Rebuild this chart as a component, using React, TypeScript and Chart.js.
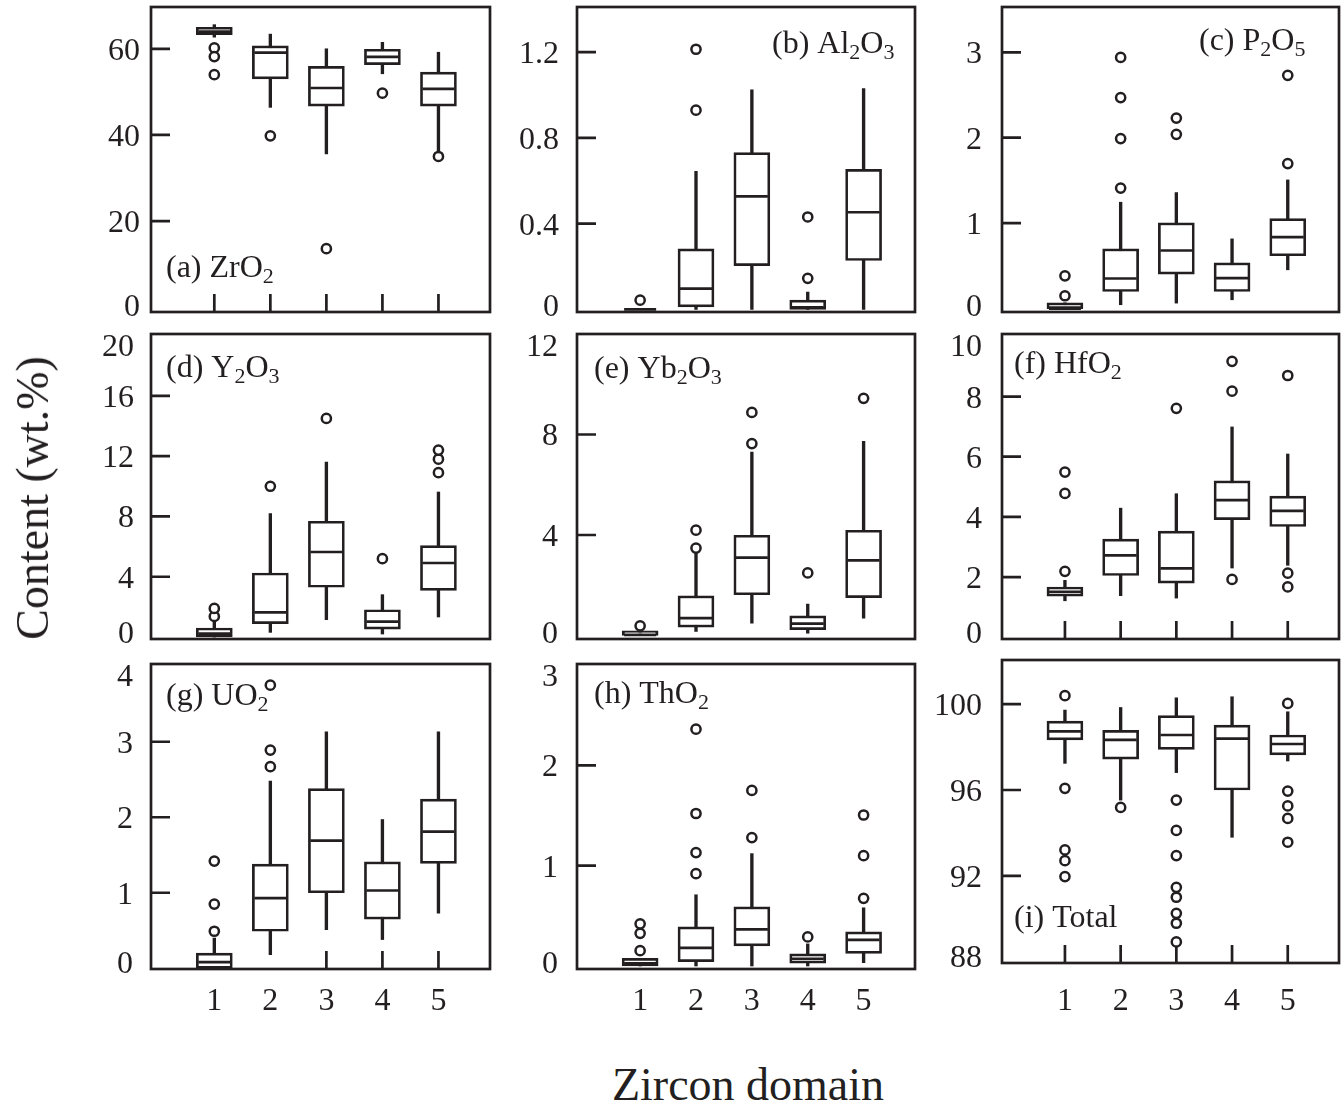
import React, { useEffect, useRef } from "react";
import { Chart, registerables } from "chart.js";

Chart.register(...registerables);

// ---------------- data ----------------
const DOMAINS = [1, 2, 3, 4, 5];
const DOMAIN_LABELS = ["1", "2", "3", "4", "5"];

// each row: [lower whisker, Q1, median, Q3, upper whisker] for domains 1..5
const ZRO2_BOXES = [
  [62.7, 63.3, 64.0, 65.0, 65.6],
  [46.4, 53.0, 59.1, 60.7, 63.4],
  [35.6, 46.7, 50.9, 55.9, 60.0],
  [54.2, 56.3, 58.1, 59.9, 61.5],
  [36.1, 46.7, 50.7, 54.6, 59.2],
];
const ZRO2_OUTLIERS = [[1, 60.2], [1, 58.2], [1, 54.0], [2, 39.8], [3, 13.6], [4, 49.7], [5, 35.0]];
const ZRO2_TICKS = [0, 20, 40, 60];

const AL2O3_BOXES = [
  [0, 0, 0, 0, 0],
  [0.0, 0.012, 0.097, 0.282, 0.644],
  [0.0, 0.204, 0.527, 0.731, 1.024],
  [0.0, 0.0, 0.01, 0.043, 0.081],
  [0.0, 0.228, 0.453, 0.653, 1.03],
];
const AL2O3_OUTLIERS = [[1, 0.043], [2, 0.929], [2, 1.213], [4, 0.145], [4, 0.431]];
const AL2O3_TICKS = [0, 0.4, 0.8, 1.2];

const P2O5_BOXES = [
  [0, 0, 0, 0.068, 0.068],
  [0.045, 0.2, 0.352, 0.7, 1.245],
  [0.064, 0.403, 0.68, 1.004, 1.358],
  [0.103, 0.2, 0.356, 0.536, 0.816],
  [0.454, 0.618, 0.836, 1.054, 1.506],
];
const P2O5_OUTLIERS = [[1, 0.15], [1, 0.384], [2, 1.41], [2, 1.99], [2, 2.47], [2, 2.94], [3, 2.04], [3, 2.23], [5, 1.697], [5, 2.73]];
const P2O5_TICKS = [0, 1, 2, 3];

const Y2O3_BOXES = [
  [0, 0, 0.22, 0.6, 1.04],
  [0.31, 0.885, 1.64, 4.25, 8.19],
  [1.15, 3.3, 5.64, 7.68, 11.6],
  [0.2, 0.53, 1.02, 1.81, 2.81],
  [1.33, 3.1, 4.91, 6.06, 9.62],
];
const Y2O3_OUTLIERS = [[1, 1.37], [1, 1.9], [2, 10.0], [3, 14.5], [4, 5.2], [5, 10.9], [5, 11.8], [5, 12.4]];
const Y2O3_TICKS = [0, 4, 8, 12, 16, 20];

const YB2O3_BOXES = [
  [0, 0, 0.02, 0.19, 0.19],
  [0.16, 0.33, 0.69, 1.58, 3.28],
  [0.49, 1.62, 3.1, 3.99, 7.3],
  [0.09, 0.23, 0.47, 0.78, 1.25],
  [0.69, 1.51, 2.99, 4.19, 7.73],
];
const YB2O3_OUTLIERS = [[1, 0.385], [2, 3.48], [2, 4.19], [3, 7.64], [3, 8.88], [4, 2.49], [5, 9.44]];
const YB2O3_TICKS = [0, 4, 8, 12];

const HFO2_BOXES = [
  [1.21, 1.36, 1.51, 1.67, 1.89],
  [1.38, 2.05, 2.72, 3.26, 4.29],
  [1.3, 1.8, 2.29, 3.53, 4.77],
  [2.3, 3.91, 4.56, 5.2, 6.99],
  [2.39, 3.68, 4.2, 4.69, 6.09],
];
const HFO2_OUTLIERS = [[1, 2.19], [1, 4.78], [1, 5.49], [3, 7.61], [4, 1.92], [4, 8.18], [4, 9.17], [5, 2.13], [5, 1.67], [5, 8.7]];
const HFO2_TICKS = [0, 2, 4, 6, 8, 10];

const UO2_BOXES = [
  [0, 0, 0.08, 0.2, 0.4],
  [0.18, 0.49, 0.93, 1.38, 2.48],
  [0.51, 1.0, 1.69, 2.38, 3.13],
  [0.38, 0.65, 1.03, 1.41, 1.97],
  [0.73, 1.39, 1.81, 2.24, 3.13],
];
const UO2_OUTLIERS = [[1, 0.49], [1, 0.85], [1, 1.42], [2, 2.67], [2, 2.89], [2, 3.75]];
const UO2_TICKS = [0, 1, 2, 3, 4];

const THO2_BOXES = [
  [0, 0, 0.027, 0.076, 0.076],
  [0, 0.043, 0.18, 0.39, 0.71],
  [0, 0.2, 0.365, 0.59, 1.12],
  [0, 0.027, 0.07, 0.12, 0.22],
  [0.033, 0.126, 0.26, 0.34, 0.58],
];
const THO2_OUTLIERS = [[1, 0.153], [1, 0.326], [1, 0.42], [2, 0.92], [2, 1.13], [2, 1.52], [2, 2.36], [3, 1.28], [3, 1.75], [4, 0.29], [5, 0.674], [5, 1.1], [5, 1.505]];
const THO2_TICKS = [0, 1, 2, 3];

const TOTAL_BOXES = [
  [97.24, 98.33, 98.73, 99.21, 99.72],
  [95.53, 97.44, 98.33, 98.78, 99.84],
  [96.81, 97.89, 98.56, 99.46, 100.29],
  [93.8, 96.0, 98.39, 99.02, 100.34],
  [97.35, 97.63, 98.14, 98.56, 99.64],
];
const TOTAL_OUTLIERS = [
  [1, 100.39], [1, 96.08], [1, 93.21], [1, 92.71], [1, 91.97],
  [2, 95.19],
  [3, 95.53], [3, 94.12], [3, 92.95], [3, 91.47], [3, 91.01], [3, 90.26], [3, 89.8], [3, 88.93],
  [5, 100.03], [5, 95.95], [5, 95.26], [5, 94.68], [5, 93.57],
];
const TOTAL_TICKS = [88, 92, 96, 100];

// ---------------- layout / style ----------------
const INK = "#231f20";
const FONT = '"Liberation Serif", "Times New Roman", Times, serif';
const LW = 2.7;
const X_MIN = -0.13;
const X_MAX = 5.92;
const CL = 110; // canvas space left of plot area
const CT = 20;
const CR = 10;

type PanelSpec = {
  label: string;
  boxes: number[][];
  outliers: number[][];
  ticks: number[];
  yMin: number;
  yMax: number;
  left: number;
  top: number;
  width: number;
  height: number;
  labelDx: number;
  labelDy: number;
  tickPad: number;
  xTickMarks: number[];
  xLabels: boolean;
};

const COL_L = [151, 577, 1002];
const COL_W = [339, 338, 337];
const ROW_T = [7, 334, 664];
const ROW_H = [305, 305, 305];

const PANELS: PanelSpec[] = [
  { label: "(a) ZrO_2", boxes: ZRO2_BOXES, outliers: ZRO2_OUTLIERS, ticks: ZRO2_TICKS, yMin: -1.1, yMax: 69.7, left: COL_L[0], top: ROW_T[0], width: COL_W[0], height: ROW_H[0], labelDx: 15, labelDy: 270, tickPad: 11, xTickMarks: DOMAINS, xLabels: false },
  { label: "(b) Al_2O_3", boxes: AL2O3_BOXES, outliers: AL2O3_OUTLIERS, ticks: AL2O3_TICKS, yMin: -0.012, yMax: 1.41, left: COL_L[1], top: ROW_T[0], width: COL_W[1], height: ROW_H[0], labelDx: 195, labelDy: 46, tickPad: 18, xTickMarks: [], xLabels: false },
  { label: "(c) P_2O_5", boxes: P2O5_BOXES, outliers: P2O5_OUTLIERS, ticks: P2O5_TICKS, yMin: -0.04, yMax: 3.53, left: COL_L[2], top: ROW_T[0], width: COL_W[2], height: ROW_H[0], labelDx: 197, labelDy: 43, tickPad: 20, xTickMarks: [], xLabels: false },
  { label: "(d) Y_2O_3", boxes: Y2O3_BOXES, outliers: Y2O3_OUTLIERS, ticks: Y2O3_TICKS, yMin: -0.13, yMax: 20.1, left: COL_L[0], top: ROW_T[1], width: COL_W[0], height: ROW_H[1], labelDx: 15, labelDy: 43, tickPad: 17, xTickMarks: [], xLabels: false },
  { label: "(e) Yb_2O_3", boxes: YB2O3_BOXES, outliers: YB2O3_OUTLIERS, ticks: YB2O3_TICKS, yMin: -0.14, yMax: 12.0, left: COL_L[1], top: ROW_T[1], width: COL_W[1], height: ROW_H[1], labelDx: 17, labelDy: 44, tickPad: 19, xTickMarks: [], xLabels: false },
  { label: "(f) HfO_2", boxes: HFO2_BOXES, outliers: HFO2_OUTLIERS, ticks: HFO2_TICKS, yMin: -0.06, yMax: 10.08, left: COL_L[2], top: ROW_T[1], width: COL_W[2], height: ROW_H[1], labelDx: 12, labelDy: 39, tickPad: 20, xTickMarks: DOMAINS, xLabels: false },
  { label: "(g) UO_2", boxes: UO2_BOXES, outliers: UO2_OUTLIERS, ticks: UO2_TICKS, yMin: -0.01, yMax: 4.03, left: COL_L[0], top: ROW_T[2], width: COL_W[0], height: ROW_H[2], labelDx: 15, labelDy: 41, tickPad: 18, xTickMarks: [3, 4, 5], xLabels: true },
  { label: "(h) ThO_2", boxes: THO2_BOXES, outliers: THO2_OUTLIERS, ticks: THO2_TICKS, yMin: -0.03, yMax: 3.01, left: COL_L[1], top: ROW_T[2], width: COL_W[1], height: ROW_H[2], labelDx: 17, labelDy: 39, tickPad: 19, xTickMarks: [], xLabels: true },
  { label: "(i) Total", boxes: TOTAL_BOXES, outliers: TOTAL_OUTLIERS, ticks: TOTAL_TICKS, yMin: 87.95, yMax: 102.05, left: COL_L[2], top: 660, width: COL_W[2], height: 303, labelDx: 12, labelDy: 267, tickPad: 20, xTickMarks: DOMAINS, xLabels: true },
];

const X_LABEL_BASELINE = 1010; // page coordinate of the domain number baseline

function drawRich(ctx: CanvasRenderingContext2D, text: string, x: number, y: number) {
  let cx = x;
  let i = 0;
  while (i < text.length) {
    if (text[i] === "_" && i + 1 < text.length) {
      ctx.font = `22px ${FONT}`;
      ctx.fillText(text[i + 1], cx, y + 6);
      cx += ctx.measureText(text[i + 1]).width;
      i += 2;
    } else {
      let j = i;
      while (j < text.length && text[j] !== "_") j++;
      const seg = text.slice(i, j);
      ctx.font = `32px ${FONT}`;
      ctx.fillText(seg, cx, y);
      cx += ctx.measureText(seg).width;
      i = j;
    }
  }
}

function PanelChart({ p }: { p: PanelSpec }) {
  const ref = useRef<HTMLCanvasElement | null>(null);
  const CB = p.xLabels ? 60 : 10;
  const W = CL + p.width + CR;
  const H = CT + p.height + CB;
  const canvasTop = p.top - CT;

  useEffect(() => {
    const canvas = ref.current;
    if (!canvas) return;

    const whiskers = p.boxes.map((b, i) => ({ x: DOMAINS[i], y: [b[0], b[4]] }));
    const iqr = p.boxes.map((b, i) => ({ x: DOMAINS[i], y: [b[1], b[3]] }));
    const medians = p.boxes.map((b, i) => ({ x: DOMAINS[i], y: b[2] }));
    const outs = p.outliers.map(([d, v]) => ({ x: d, y: v }));

    const decor = {
      id: "panelDecor",
      beforeDatasetsDraw(chart: any) {
        const { ctx, chartArea: a, scales } = chart;
        const xs = scales.x;
        const ys = scales.y;
        ctx.save();
        ctx.strokeStyle = INK;
        ctx.lineWidth = LW;
        ctx.beginPath();
        for (const v of p.ticks) {
          const py = ys.getPixelForValue(v);
          if (py > a.top + 6 && py < a.bottom - 6) {
            ctx.moveTo(a.left, py);
            ctx.lineTo(a.left + 19, py);
          }
        }
        for (const d of p.xTickMarks) {
          const px = xs.getPixelForValue(d);
          ctx.moveTo(px, a.bottom);
          ctx.lineTo(px, a.bottom - 18);
        }
        ctx.stroke();
        ctx.restore();
      },
      afterDatasetsDraw(chart: any) {
        const { ctx, chartArea: a, scales } = chart;
        const xs = scales.x;
        const ys = scales.y;
        ctx.save();
        ctx.strokeStyle = INK;
        ctx.lineWidth = LW;
        ctx.strokeRect(a.left, a.top, a.right - a.left, a.bottom - a.top);

        ctx.fillStyle = INK;
        ctx.font = `32px ${FONT}`;
        ctx.textAlign = "right";
        ctx.textBaseline = "alphabetic";
        for (const v of p.ticks) {
          const py = ys.getPixelForValue(v);
          const yc = Math.min(Math.max(py, a.top + 11), a.bottom - 7);
          ctx.fillText(String(v), a.left - p.tickPad, yc + 11);
        }

        if (p.xLabels) {
          ctx.textAlign = "center";
          DOMAINS.forEach((d, i) => {
            const px = xs.getPixelForValue(d);
            ctx.fillText(DOMAIN_LABELS[i], px, X_LABEL_BASELINE - canvasTop);
          });
        }

        ctx.textAlign = "left";
        drawRich(ctx, p.label, a.left + p.labelDx, a.top + p.labelDy);
        ctx.restore();
      },
    };

    const chart = new Chart(canvas, {
      type: "bar",
      data: {
        datasets: [
          {
            type: "bar",
            data: whiskers as any,
            backgroundColor: INK,
            borderWidth: 0,
            barThickness: LW,
            grouped: false,
            order: 4,
          } as any,
          {
            type: "bar",
            data: iqr as any,
            backgroundColor: "#ffffff",
            borderColor: INK,
            borderWidth: LW,
            borderSkipped: false,
            barThickness: 36,
            grouped: false,
            order: 3,
          } as any,
          {
            type: "scatter",
            data: medians,
            pointStyle: "line",
            pointRadius: 16,
            borderWidth: LW,
            borderColor: INK,
            order: 2,
          } as any,
          {
            type: "scatter",
            data: outs,
            pointStyle: "circle",
            pointRadius: 4.6,
            borderWidth: 2.5,
            borderColor: INK,
            backgroundColor: "#ffffff",
            order: 1,
          } as any,
        ],
      },
      options: {
        animation: false,
        responsive: false,
        events: [],
        layout: { autoPadding: false, padding: { left: 0, top: CT, right: CR, bottom: 0 } },
        plugins: { legend: { display: false }, tooltip: { enabled: false } },
        scales: {
          x: {
            type: "linear",
            min: X_MIN,
            max: X_MAX,
            offset: false,
            grid: { display: false },
            border: { display: false },
            ticks: { display: false },
            afterFit: (s: any) => {
              s.height = CB;
            },
          },
          y: {
            type: "linear",
            min: p.yMin,
            max: p.yMax,
            grid: { display: false },
            border: { display: false },
            ticks: { display: false },
            afterBuildTicks: (s: any) => {
              s.ticks = p.ticks.map((v) => ({ value: v }));
            },
            afterFit: (s: any) => {
              s.width = CL;
            },
          },
        },
      } as any,
      plugins: [decor],
    });
    return () => chart.destroy();
  }, []);

  return (
    <canvas
      ref={ref}
      width={W}
      height={H}
      style={{ position: "absolute", left: p.left - CL, top: canvasTop, width: W, height: H }}
    />
  );
}

export default function App() {
  return (
    <div style={{ position: "absolute", left: 0, top: 0, width: 1341, height: 1115, background: "#ffffff", overflow: "hidden" }}>
      {PANELS.map((p, i) => (
        <PanelChart key={i} p={p} />
      ))}
      <div
        style={{
          position: "absolute",
          left: 33,
          top: 498,
          transform: "translate(-50%, -50%) rotate(-90deg)",
          fontFamily: FONT,
          fontSize: 46,
          lineHeight: 1,
          color: INK,
          whiteSpace: "nowrap",
        }}
      >
        Content (wt.%)
      </div>
      <div
        style={{
          position: "absolute",
          left: 748,
          top: 1085,
          transform: "translate(-50%, -50%)",
          fontFamily: FONT,
          fontSize: 46,
          lineHeight: 1,
          color: INK,
          whiteSpace: "nowrap",
        }}
      >
        Zircon domain
      </div>
    </div>
  );
}
